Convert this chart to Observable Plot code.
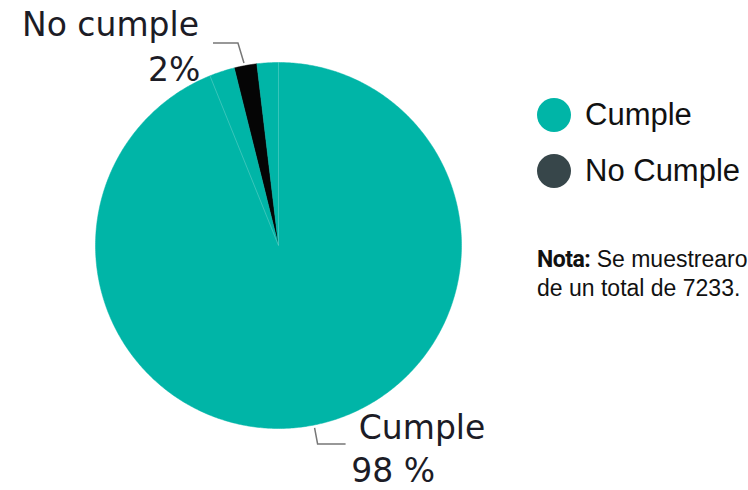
<!DOCTYPE html>
<html><head><meta charset="utf-8">
<script src="https://cdn.jsdelivr.net/npm/d3@7"></script>
<script src="https://cdn.jsdelivr.net/npm/@observablehq/plot@0.6"></script>
<style>
html,body{margin:0;padding:0;background:#fff;overflow:hidden;width:748px;height:490px}
#wrap{position:relative;width:748px;height:490px;overflow:hidden}
.lg{position:absolute;left:537px;font-family:"Liberation Sans",Arial,sans-serif;font-size:31px;line-height:36px;color:#111;display:flex;align-items:center;white-space:nowrap}
.dot{width:34px;height:34px;border-radius:50%;margin-right:14px}
.nota{position:absolute;left:537px;top:245px;font-family:"Liberation Sans",Arial,sans-serif;font-size:23px;line-height:28px;color:#111;white-space:nowrap}
.nota b{font-family:"Roboto","Liberation Sans",sans-serif;font-weight:700;letter-spacing:-0.5px}
</style></head><body><div id="wrap"></div>
<script>
const categories = ["No cumple", "Cumple"];
const values = [2, 98];
const labels = ["No cumple", "Cumple"];
const pctLabels = ["2%", "98 %"];
const legendNames = ["Cumple", "No Cumple"];
const sliceColors = ["#050505", "#00b5a7"];
const legendColors = ["#00b5a7", "#37464a"];
const startDeg = -14;

const pie = d3.pie().sort(null).value(d => d.value)
  .startAngle(startDeg * Math.PI / 180).endAngle(startDeg * Math.PI / 180 + 2 * Math.PI);
const data = categories.map((c, i) => ({category: c, value: values[i], color: sliceColors[i]}));
const arcs = pie(data);

function slicePoly(a) {
  const pts = [{x: 0, y: 0}];
  const n = Math.max(2, Math.ceil((a.endAngle - a.startAngle) / 0.01));
  for (let k = 0; k <= n; k++) {
    const t = a.startAngle + (a.endAngle - a.startAngle) * k / n;
    pts.push({x: Math.sin(t), y: Math.cos(t)});
  }
  pts.push({x: 0, y: 0});
  return pts;
}

const marks = arcs.map(a => Plot.line(slicePoly(a), {x: "x", y: "y", fill: a.data.color, stroke: a.data.color, strokeWidth: 0.5, curve: "linear"}));

// faint seams inside the teal slice
const seams = [0, -22].map(d => d * Math.PI / 180);
marks.push(Plot.link(seams, {x1: 0, y1: 0, x2: t => Math.sin(t), y2: t => Math.cos(t), stroke: "#ffffff", strokeOpacity: 0.22, strokeWidth: 1}));

// labels anchored to their slices
const nc = arcs[0];
const ncMid = (nc.startAngle + nc.endAngle) / 2;
const ncP = {x: Math.sin(ncMid), y: Math.cos(ncMid)};
const cuMid = 160 * Math.PI / 180;
const cuP = {x: Math.sin(cuMid), y: Math.cos(cuMid)};

const lab = "'DejaVu Sans',sans-serif";
const txt = {fontSize: 33, fontFamily: lab, fill: "#1c1c26", text: d => d};
marks.push(
  Plot.text([labels[0]], {...txt, x: () => ncP.x, y: () => ncP.y, dx: -135, dy: -40, textAnchor: "middle"}),
  Plot.text([pctLabels[0]], {...txt, x: () => ncP.x, y: () => ncP.y, dx: -45, dy: 5, textAnchor: "end"}),
  Plot.text([labels[1]], {...txt, x: () => cuP.x, y: () => cuP.y, dx: 81, dy: 11, textAnchor: "middle"}),
  Plot.text([pctLabels[1]], {...txt, x: () => cuP.x, y: () => cuP.y, dx: 52, dy: 54, textAnchor: "middle", letterSpacing: -1})
);

const chart = Plot.plot({
  width: 748, height: 490,
  marginLeft: 95, marginRight: 287, marginTop: 62, marginBottom: 62,
  x: {domain: [-1, 1], axis: null},
  y: {domain: [-1, 1], axis: null},
  style: {background: "transparent", overflow: "visible"},
  marks
});

// leader lines in pixel space derived from scales
const X = chart.scale("x"), Y = chart.scale("y");
const svg = d3.select(chart);
const px = X.apply(ncP.x), py = Y.apply(ncP.y);
svg.append("path").attr("d", `M${px - 32},${py - 22} H${px - 7} L${px - 1},${py - 2}`).attr("fill", "none").attr("stroke", "#777").attr("stroke-width", 1.5);
const cx = X.apply(cuP.x), cy = Y.apply(cuP.y);
svg.append("path").attr("d", `M${cx - 26},${cy + 11} L${cx - 23},${cy + 27} H${cx + 5}`).attr("fill", "none").attr("stroke", "#777").attr("stroke-width", 1.5);

const wrap = document.getElementById("wrap");
wrap.appendChild(chart);
chart.style.position = "absolute"; chart.style.left = "0"; chart.style.top = "0";

legendNames.forEach((n, i) => {
  const d = document.createElement("div");
  d.className = "lg";
  d.style.top = (97 + i * 56) + "px";
  d.innerHTML = `<span class="dot" style="background:${legendColors[i]}"></span><span>${n}</span>`;
  wrap.appendChild(d);
});
const nota = document.createElement("div");
nota.className = "nota";
nota.innerHTML = `<b>Nota:</b> Se muestrearon<br>de un total de 7233.`;
wrap.appendChild(nota);
</script></body></html>
